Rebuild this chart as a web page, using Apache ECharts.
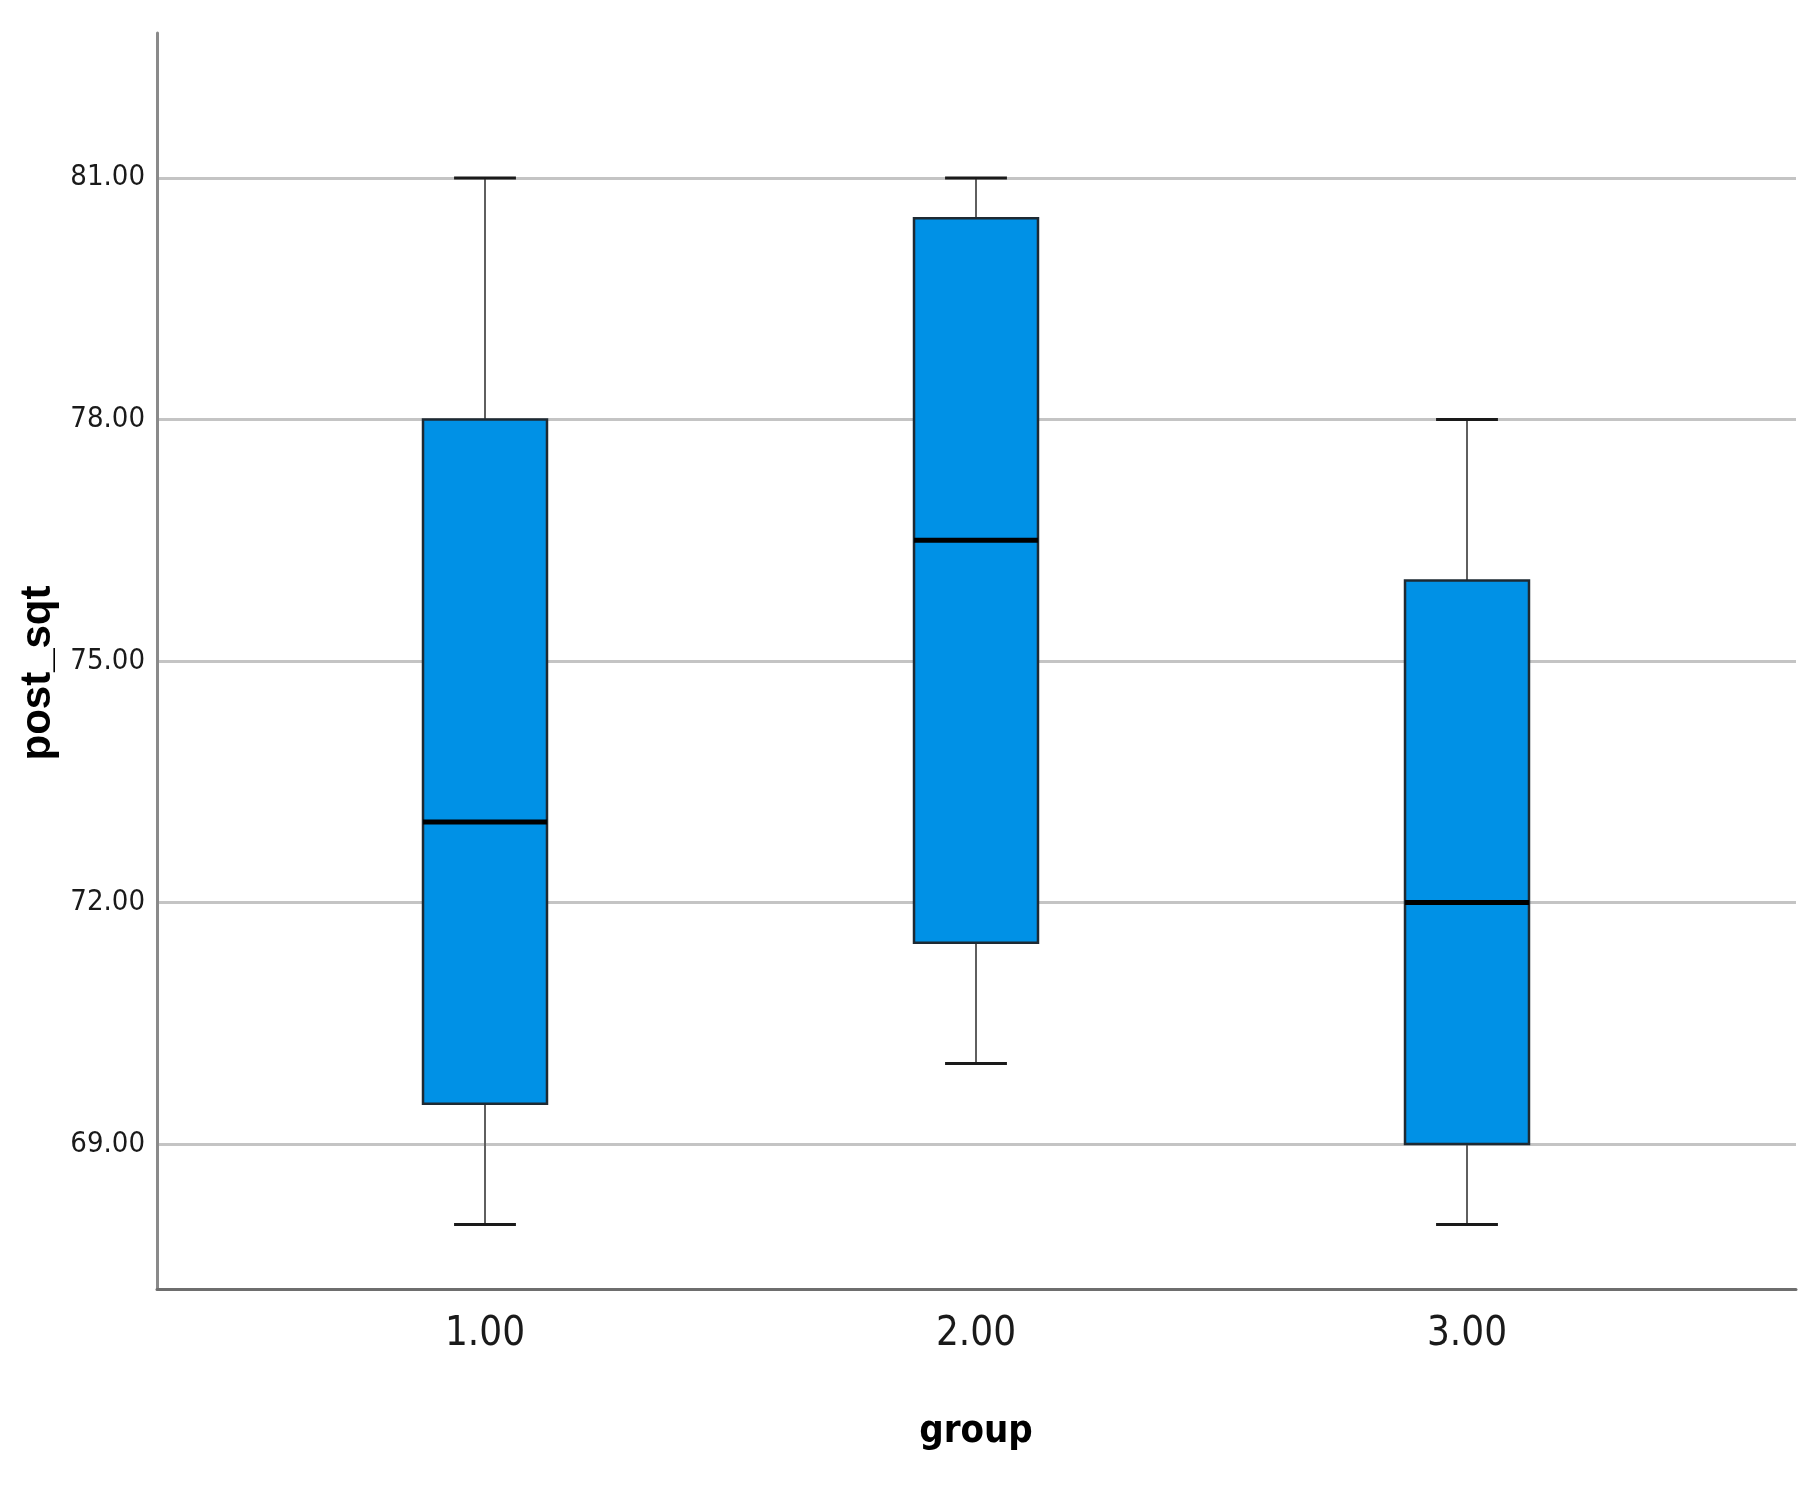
<!DOCTYPE html>
<html>
<head>
<meta charset="utf-8">
<script src="https://cdn.jsdelivr.net/npm/echarts@6/dist/echarts.min.js"></script>
<style>
html,body{margin:0;padding:0;background:#fff;}
#chart{width:1820px;height:1490px;}
</style>
</head>
<body>
<div id="chart"></div>
<script>
const categories = ['1.00', '2.00', '3.00'];
const whiskerLow = [68, 70, 68];
const q1 = [69.5, 71.5, 69];
const median = [73, 76.5, 72];
const q3 = [78, 80.5, 76];
const whiskerHigh = [81, 81, 78];
const yTicks = [69, 72, 75, 78, 81];
const yMin = 67.2, yMax = 82.8;

const narrow = "'Liberation Sans Narrow', 'Arial Narrow', 'DejaVu Sans Condensed', sans-serif";
const data = categories.map((c, i) => [i, whiskerLow[i], q1[i], median[i], q3[i], whiskerHigh[i]]);

const chart = echarts.init(document.getElementById('chart'));
chart.setOption({
  animation: false,
  backgroundColor: '#fff',
  grid: [
    {left: 157, right: 24, top: 33, bottom: 201},
    {left: 239.5, right: 107.5, top: 33, bottom: 201}
  ],
  xAxis: [
    {type: 'value', gridIndex: 0, min: 0, max: 1,
     axisLine: {show: true, lineStyle: {color: '#6e6e6e', width: 3}},
     axisTick: {show: false}, axisLabel: {show: false}, splitLine: {show: false}},
    {type: 'category', gridIndex: 1, data: categories,
     axisLine: {show: false}, axisTick: {show: false},
     axisLabel: {color: '#1a1a1a', fontSize: 40, fontFamily: narrow, margin: 26},
     name: 'group', nameLocation: 'middle', nameGap: 124,
     nameTextStyle: {color: '#000', fontSize: 38, fontWeight: 'bold', fontFamily: narrow}}
  ],
  yAxis: [
    {type: 'value', gridIndex: 0, min: yMin, max: yMax,
     axisLine: {show: true, lineStyle: {color: '#8a8a8a', width: 3}},
     axisTick: {show: false, customValues: yTicks},
     axisLabel: {customValues: yTicks, formatter: v => v.toFixed(2), color: '#1a1a1a', fontSize: 29, fontFamily: narrow, margin: 12},
     splitLine: {show: true, lineStyle: {color: '#c4c4c4', width: 3}},
     name: 'post_sqt', nameLocation: 'middle', nameGap: 95,
     nameTextStyle: {color: '#000', fontSize: 42, fontWeight: 'bold', fontFamily: "'Liberation Sans', Arial, sans-serif", padding: [0, 24, 0, 0]}},
    {type: 'value', gridIndex: 1, min: yMin, max: yMax, show: false, splitLine: {show: false}}
  ],
  series: [{
    type: 'custom',
    xAxisIndex: 1, yAxisIndex: 1,
    encode: {x: 0, y: [1, 2, 3, 4, 5]},
    data: data,
    renderItem: function (params, api) {
      const x = api.value(0);
      const pLo = api.coord([x, api.value(1)]);
      const pQ1 = api.coord([x, api.value(2)]);
      const pMed = api.coord([x, api.value(3)]);
      const pQ3 = api.coord([x, api.value(4)]);
      const pHi = api.coord([x, api.value(5)]);
      const band = api.size([1, 0])[0];
      const bw = band * 0.2525;
      const cw = band * 0.126;
      const cx = pMed[0];
      const whiskerStyle = {stroke: '#5f5f5f', lineWidth: 2};
      const capStyle = {stroke: '#1a1a1a', lineWidth: 3};
      return {
        type: 'group',
        children: [
          {type: 'line', shape: {x1: cx, y1: pHi[1], x2: cx, y2: pQ3[1]}, style: whiskerStyle},
          {type: 'line', shape: {x1: cx, y1: pQ1[1], x2: cx, y2: pLo[1]}, style: whiskerStyle},
          {type: 'line', shape: {x1: cx - cw / 2, y1: pHi[1], x2: cx + cw / 2, y2: pHi[1]}, style: capStyle},
          {type: 'line', shape: {x1: cx - cw / 2, y1: pLo[1], x2: cx + cw / 2, y2: pLo[1]}, style: capStyle},
          {type: 'rect', shape: {x: cx - bw / 2, y: pQ3[1], width: bw, height: pQ1[1] - pQ3[1]},
           style: {fill: '#0091e6', stroke: '#1e2a33', lineWidth: 2.5}},
          {type: 'line', shape: {x1: cx - bw / 2, y1: pMed[1], x2: cx + bw / 2, y2: pMed[1]},
           style: {stroke: '#000', lineWidth: 5}}
        ]
      };
    }
  }]
});
</script>
</body>
</html>
